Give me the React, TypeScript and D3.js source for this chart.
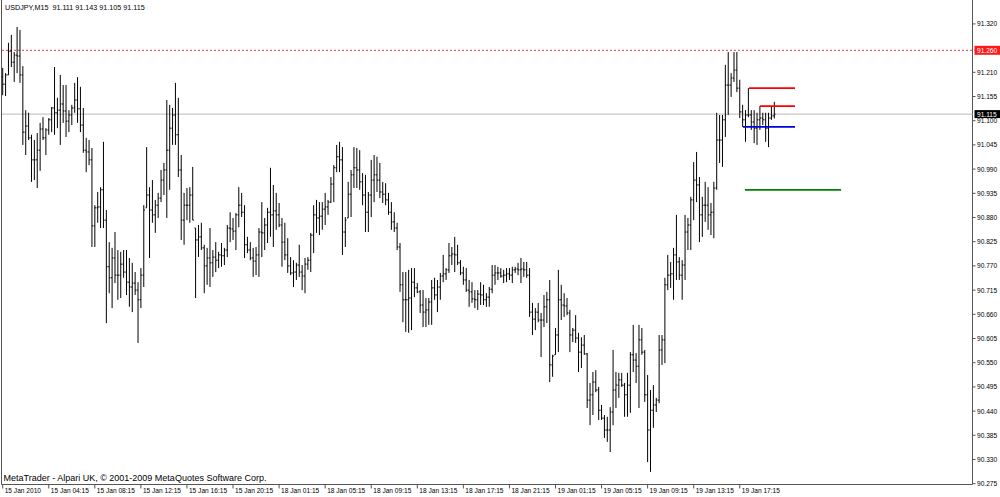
import React, { useEffect } from 'react';
import * as d3 from 'd3';

// USDJPY M15 bars (prices)
const opens = [
  91.200, 91.183, 91.204, 91.258, 91.233, 91.249, 91.247, 91.204, 91.074, 91.088, 91.061, 91.011, 91.011, 91.033, 91.081, 91.061,
  91.079, 91.102, 91.129, 91.118, 91.124, 91.138, 91.122, 91.099, 91.113, 91.129, 91.147, 91.127, 91.090, 91.033, 91.029, 91.011,
  90.861, 90.902, 90.904, 90.943, 90.874, 90.768, 90.743, 90.788, 90.749, 90.749, 90.774, 90.756, 90.733, 90.722, 90.731, 90.715,
  90.693, 90.749, 90.902, 90.931, 90.897, 90.886, 90.908, 90.924, 90.965, 90.988, 91.033, 91.083, 91.113, 91.068, 90.988, 90.874,
  90.908, 90.908, 90.931, 90.856, 90.829, 90.836, 90.811, 90.770, 90.788, 90.777, 90.790, 90.783, 90.795, 90.793, 90.806, 90.856,
  90.854, 90.849, 90.886, 90.908, 90.892, 90.818, 90.806, 90.788, 90.781, 90.795, 90.847, 90.845, 90.863, 90.892, 90.886, 90.895,
  90.886, 90.863, 90.824, 90.795, 90.770, 90.754, 90.756, 90.772, 90.756, 90.747, 90.774, 90.783, 90.840, 90.886, 90.879, 90.883,
  90.899, 90.904, 90.915, 90.956, 90.993, 91.018, 91.011, 90.847, 90.879, 90.933, 90.977, 90.993, 90.988, 90.961, 90.931, 90.892,
  90.931, 90.965, 90.977, 90.965, 90.938, 90.933, 90.920, 90.892, 90.870, 90.856, 90.813, 90.727, 90.693, 90.693, 90.697, 90.733,
  90.720, 90.711, 90.681, 90.665, 90.670, 90.688, 90.720, 90.704, 90.722, 90.747, 90.752, 90.761, 90.793, 90.797, 90.795, 90.777,
  90.754, 90.738, 90.715, 90.711, 90.695, 90.693, 90.706, 90.704, 90.693, 90.699, 90.717, 90.749, 90.754, 90.754, 90.747, 90.749,
  90.752, 90.749, 90.761, 90.763, 90.761, 90.763, 90.761, 90.749, 90.665, 90.649, 90.665, 90.647, 90.647, 90.677, 90.693, 90.545,
  90.568, 90.613, 90.693, 90.681, 90.679, 90.663, 90.613, 90.624, 90.606, 90.574, 90.590, 90.570, 90.465, 90.477, 90.506, 90.488,
  90.442, 90.424, 90.397, 90.397, 90.438, 90.488, 90.499, 90.511, 90.499, 90.477, 90.499, 90.568, 90.556, 90.542, 90.602, 90.574,
  90.477, 90.397, 90.442, 90.454, 90.465, 90.579, 90.602, 90.727, 90.749, 90.752, 90.795, 90.779, 90.749, 90.772, 90.847, 90.863,
  90.920, 90.965, 90.954, 90.886, 90.908, 90.908, 90.886, 90.892, 90.947, 91.056, 91.056, 91.102, 91.181, 91.181, 91.197, 91.215,
  91.174, 91.120, 91.102, 91.113, 91.113, 91.097, 91.083, 91.102, 91.106, 91.102, 91.083, 91.106, 91.111,
];

const highs = [
  91.220, 91.208, 91.277, 91.295, 91.256, 91.313, 91.306, 91.224, 91.124, 91.118, 91.068, 91.056, 91.072, 91.095, 91.108, 91.083,
  91.106, 91.131, 91.222, 91.152, 91.204, 91.181, 91.181, 91.124, 91.136, 91.186, 91.199, 91.177, 91.129, 91.061, 91.056, 91.038,
  90.908, 90.938, 90.949, 91.052, 90.897, 90.824, 90.811, 90.847, 90.806, 90.802, 90.806, 90.806, 90.788, 90.777, 90.756, 90.733,
  90.765, 90.908, 91.040, 90.949, 90.965, 90.920, 90.936, 90.988, 91.004, 91.147, 91.136, 91.129, 91.186, 91.152, 91.022, 90.936,
  90.947, 90.949, 90.995, 90.856, 90.863, 90.868, 90.818, 90.811, 90.856, 90.806, 90.824, 90.802, 90.822, 90.811, 90.863, 90.892,
  90.879, 90.890, 90.949, 90.936, 90.908, 90.836, 90.824, 90.811, 90.813, 90.856, 90.915, 90.879, 90.902, 90.993, 90.954, 90.936,
  90.913, 90.879, 90.868, 90.833, 90.790, 90.783, 90.777, 90.818, 90.772, 90.788, 90.790, 90.845, 90.908, 90.920, 90.915, 90.915,
  90.936, 90.920, 90.972, 90.999, 91.045, 91.052, 91.040, 90.881, 90.961, 90.988, 91.040, 91.038, 91.033, 90.981, 90.977, 90.938,
  91.011, 91.022, 91.018, 91.004, 90.961, 90.958, 90.936, 90.915, 90.892, 90.868, 90.822, 90.756, 90.756, 90.761, 90.765, 90.765,
  90.731, 90.715, 90.715, 90.697, 90.697, 90.738, 90.743, 90.738, 90.754, 90.795, 90.765, 90.822, 90.813, 90.836, 90.818, 90.783,
  90.768, 90.765, 90.738, 90.733, 90.715, 90.715, 90.733, 90.727, 90.708, 90.722, 90.772, 90.772, 90.768, 90.765, 90.761, 90.765,
  90.765, 90.768, 90.768, 90.777, 90.788, 90.779, 90.779, 90.765, 90.686, 90.674, 90.686, 90.663, 90.704, 90.711, 90.738, 90.568,
  90.629, 90.761, 90.727, 90.708, 90.697, 90.670, 90.629, 90.658, 90.618, 90.608, 90.613, 90.572, 90.504, 90.529, 90.533, 90.495,
  90.454, 90.431, 90.427, 90.449, 90.579, 90.529, 90.527, 90.527, 90.504, 90.527, 90.574, 90.636, 90.572, 90.636, 90.629, 90.579,
  90.522, 90.488, 90.499, 90.470, 90.613, 90.613, 90.743, 90.795, 90.779, 90.811, 90.886, 90.790, 90.783, 90.886, 90.879, 90.927,
  91.006, 91.029, 90.972, 90.927, 90.961, 90.949, 90.913, 90.961, 91.118, 91.113, 91.113, 91.227, 91.256, 91.208, 91.256, 91.256,
  91.193, 91.136, 91.124, 91.174, 91.124, 91.124, 91.118, 91.133, 91.118, 91.118, 91.118, 91.131, 91.143,
];

const lows = [
  91.158, 91.156, 91.204, 91.222, 91.188, 91.208, 91.186, 91.045, 91.022, 91.056, 90.961, 90.965, 90.947, 90.986, 91.056, 91.022,
  91.068, 91.074, 91.068, 91.083, 91.045, 91.095, 91.063, 91.074, 91.090, 91.118, 91.095, 91.074, 91.027, 90.983, 90.999, 90.813,
  90.813, 90.868, 90.856, 90.856, 90.640, 90.708, 90.674, 90.731, 90.693, 90.697, 90.743, 90.704, 90.677, 90.665, 90.704, 90.595,
  90.674, 90.722, 90.902, 90.788, 90.868, 90.845, 90.879, 90.915, 90.931, 90.879, 90.943, 91.045, 91.045, 90.972, 90.829, 90.818,
  90.874, 90.868, 90.874, 90.697, 90.790, 90.806, 90.708, 90.727, 90.722, 90.745, 90.756, 90.765, 90.768, 90.772, 90.790, 90.824,
  90.829, 90.806, 90.858, 90.881, 90.788, 90.799, 90.783, 90.745, 90.749, 90.745, 90.790, 90.806, 90.822, 90.836, 90.813, 90.852,
  90.858, 90.768, 90.783, 90.754, 90.749, 90.722, 90.738, 90.745, 90.715, 90.708, 90.761, 90.756, 90.799, 90.845, 90.840, 90.852,
  90.863, 90.886, 90.913, 90.915, 90.983, 90.983, 90.795, 90.813, 90.879, 90.881, 90.947, 90.947, 90.943, 90.908, 90.847, 90.847,
  90.881, 90.915, 90.938, 90.924, 90.913, 90.908, 90.886, 90.852, 90.847, 90.806, 90.711, 90.642, 90.620, 90.618, 90.624, 90.699,
  90.708, 90.663, 90.631, 90.631, 90.636, 90.636, 90.693, 90.665, 90.693, 90.733, 90.738, 90.754, 90.772, 90.756, 90.772, 90.749,
  90.727, 90.711, 90.677, 90.686, 90.674, 90.670, 90.681, 90.681, 90.677, 90.677, 90.708, 90.727, 90.738, 90.743, 90.731, 90.733,
  90.738, 90.731, 90.754, 90.749, 90.731, 90.745, 90.743, 90.654, 90.613, 90.624, 90.642, 90.563, 90.631, 90.640, 90.506, 90.518,
  90.568, 90.574, 90.647, 90.654, 90.658, 90.574, 90.597, 90.595, 90.529, 90.538, 90.568, 90.447, 90.408, 90.431, 90.483, 90.420,
  90.420, 90.379, 90.370, 90.347, 90.408, 90.447, 90.470, 90.495, 90.427, 90.427, 90.436, 90.529, 90.504, 90.447, 90.568, 90.461,
  90.324, 90.302, 90.402, 90.438, 90.458, 90.545, 90.549, 90.715, 90.720, 90.693, 90.738, 90.738, 90.693, 90.738, 90.806, 90.806,
  90.874, 90.915, 90.824, 90.836, 90.870, 90.852, 90.840, 90.833, 90.943, 91.004, 90.995, 91.063, 91.113, 91.154, 91.188, 91.165,
  91.106, 91.086, 91.052, 91.108, 91.079, 91.049, 91.045, 91.079, 91.090, 91.052, 91.040, 91.102, 91.105,
];

const closes = [
  91.183, 91.204, 91.258, 91.233, 91.249, 91.247, 91.204, 91.074, 91.088, 91.061, 91.011, 91.011, 91.033, 91.081, 91.061, 91.079,
  91.102, 91.129, 91.118, 91.124, 91.138, 91.122, 91.099, 91.113, 91.129, 91.147, 91.127, 91.090, 91.033, 91.029, 91.011, 90.861,
  90.902, 90.904, 90.943, 90.874, 90.768, 90.743, 90.788, 90.749, 90.749, 90.774, 90.756, 90.733, 90.722, 90.731, 90.715, 90.693,
  90.749, 90.897, 90.931, 90.897, 90.886, 90.908, 90.924, 90.965, 90.988, 91.033, 91.083, 91.113, 91.068, 90.988, 90.874, 90.908,
  90.908, 90.931, 90.874, 90.829, 90.836, 90.811, 90.770, 90.788, 90.777, 90.790, 90.783, 90.795, 90.793, 90.806, 90.856, 90.854,
  90.849, 90.886, 90.908, 90.892, 90.818, 90.806, 90.788, 90.781, 90.795, 90.847, 90.845, 90.863, 90.892, 90.886, 90.895, 90.886,
  90.863, 90.824, 90.795, 90.770, 90.754, 90.756, 90.772, 90.756, 90.747, 90.774, 90.783, 90.840, 90.886, 90.879, 90.883, 90.899,
  90.904, 90.915, 90.956, 90.993, 91.018, 91.011, 90.847, 90.874, 90.933, 90.977, 90.993, 90.988, 90.961, 90.931, 90.892, 90.931,
  90.965, 90.977, 90.965, 90.938, 90.933, 90.920, 90.892, 90.870, 90.856, 90.813, 90.727, 90.693, 90.693, 90.697, 90.733, 90.720,
  90.711, 90.681, 90.665, 90.670, 90.688, 90.720, 90.704, 90.722, 90.747, 90.752, 90.761, 90.793, 90.797, 90.795, 90.777, 90.754,
  90.738, 90.715, 90.711, 90.695, 90.693, 90.706, 90.704, 90.693, 90.699, 90.717, 90.749, 90.754, 90.754, 90.747, 90.749, 90.752,
  90.749, 90.761, 90.763, 90.761, 90.763, 90.761, 90.749, 90.665, 90.649, 90.665, 90.647, 90.647, 90.677, 90.693, 90.545, 90.565,
  90.613, 90.693, 90.681, 90.679, 90.663, 90.613, 90.624, 90.606, 90.574, 90.590, 90.570, 90.465, 90.477, 90.506, 90.488, 90.442,
  90.424, 90.397, 90.397, 90.438, 90.488, 90.499, 90.511, 90.499, 90.477, 90.499, 90.568, 90.556, 90.542, 90.602, 90.574, 90.477,
  90.397, 90.442, 90.454, 90.465, 90.579, 90.602, 90.727, 90.749, 90.752, 90.795, 90.779, 90.749, 90.772, 90.847, 90.863, 90.920,
  90.965, 90.954, 90.886, 90.908, 90.908, 90.886, 90.892, 90.947, 91.056, 91.056, 91.102, 91.181, 91.181, 91.197, 91.215, 91.174,
  91.120, 91.102, 91.113, 91.113, 91.097, 91.083, 91.102, 91.106, 91.102, 91.083, 91.106, 91.111, 91.115,
];

const timeLabels = [
  '15 Jan 2010', '15 Jan 04:15', '15 Jan 08:15', '15 Jan 12:15', '15 Jan 16:15', '15 Jan 20:15',
  '18 Jan 01:15', '18 Jan 05:15', '18 Jan 09:15', '18 Jan 13:15', '18 Jan 17:15', '18 Jan 21:15',
  '19 Jan 01:15', '19 Jan 05:15', '19 Jan 09:15', '19 Jan 13:15', '19 Jan 17:15',
];
const barsPerLabel = 16;

const priceTicks = [
  91.32, 91.21, 91.155, 91.1, 91.045, 90.99, 90.935, 90.88, 90.825, 90.77,
  90.715, 90.66, 90.605, 90.55, 90.495, 90.44, 90.385, 90.33, 90.275,
];

const symbol = 'USDJPY,M15';
const highLine = 91.26;
const bidPrice = 91.115;

// hand drawn trend levels (start / end in bar units)
const levels = [
  { price: 91.174, from: 259.2, to: 275.2, color: '#ff0000' },
  { price: 91.133, from: 263, to: 275.2, color: '#ff0000' },
  { price: 91.086, from: 257.1, to: 275.2, color: '#0000dd' },
  { price: 90.943, from: 257.8, to: 291.2, color: '#008000' },
];

const W = 1000;
const H = 497;
const axisX = 972.5;
const bottomY = 484.5;
const font = "'Liberation Sans', Arial, sans-serif";

export default function App() {
  useEffect(() => {
    document.body.style.margin = '0';
    document.body.style.background = '#fff';
  }, []);

  const x = d3.scaleLinear().domain([0, 268]).range([2.7, 774.3]);
  const y = d3.scaleLinear().domain([90.275, 91.32]).range([483.7, 23.9]);

  const last = closes.length - 1;
  const title = `${symbol}  ${opens[last].toFixed(3)} ${highs[last].toFixed(3)} ${lows[last].toFixed(3)} ${closes[last].toFixed(3)}`;

  const barPath = closes
    .map((c, i) => {
      const xi = x(i);
      return `M${xi},${y(highs[i])}V${y(lows[i])}M${xi - 1.2},${y(opens[i])}H${xi}M${xi},${y(c)}H${xi + 1.2}`;
    })
    .join('');

  return (
    <div style={{ position: 'absolute', left: 0, top: 0 }}>
      <svg width={W} height={H} style={{ display: 'block', background: '#fff' }}>
        {/* frame */}
        <line x1={1.5} x2={1.5} y1={0} y2={bottomY} stroke="#555" />
        <line x1={1.5} x2={axisX} y1={bottomY} y2={bottomY} stroke="#555" />
        <line x1={axisX} x2={axisX} y1={0} y2={bottomY} stroke="#555" />

        {/* bid line and day high */}
        <line x1={2} x2={axisX} y1={y(bidPrice)} y2={y(bidPrice)} stroke="#c8c8c8" strokeWidth={1.3} />
        <line
          x1={2}
          x2={axisX + 2}
          y1={y(highLine)}
          y2={y(highLine)}
          stroke="#e83a3a"
          strokeDasharray="2,2"
        />

        {/* bars */}
        <path d={barPath} stroke="#000" strokeWidth={1} fill="none" />

        {/* levels */}
        {levels.map((l, i) => (
          <line
            key={i}
            x1={x(l.from)}
            x2={x(l.to)}
            y1={y(l.price)}
            y2={y(l.price)}
            stroke={l.color}
            strokeWidth={1.8}
          />
        ))}

        {/* price axis */}
        {priceTicks.map((p) => (
          <g key={p}>
            <line x1={axisX} x2={axisX + 3} y1={y(p)} y2={y(p)} stroke="#555" />
            <text x={977} y={y(p) + 2.4} fontFamily={font} fontSize={6.6} fill="#000">
              {p.toFixed(3)}
            </text>
          </g>
        ))}
        <rect x={974.5} y={y(highLine) - 4.5} width={26} height={9} fill="#ff1a1a" />
        <text x={977} y={y(highLine) + 2.4} fontFamily={font} fontSize={6.6} fill="#fff">
          {highLine.toFixed(3)}
        </text>
        <rect x={974.5} y={y(bidPrice) - 4} width={26} height={8} fill="#000" />
        <text x={977} y={y(bidPrice) + 2.4} fontFamily={font} fontSize={6.6} fill="#fff">
          {bidPrice.toFixed(3)}
        </text>

        {/* time axis */}
        {timeLabels.map((t, k) => {
          const tx = x(k * barsPerLabel);
          return (
            <g key={t}>
              <line x1={tx} x2={tx} y1={bottomY} y2={bottomY + 4} stroke="#555" />
              <text x={tx + 2} y={492.5} fontFamily={font} fontSize={6.6} fill="#000">
                {t}
              </text>
            </g>
          );
        })}

        {/* captions */}
        <text x={5} y={10.3} fontFamily={font} fontSize={7.2} fill="#000" style={{ whiteSpace: 'pre' }}>
          {title}
        </text>
        <text x={3.5} y={481} fontFamily={font} fontSize={9} fill="#000">
          MetaTrader - Alpari UK, © 2001-2009 MetaQuotes Software Corp.
        </text>
      </svg>
    </div>
  );
}
